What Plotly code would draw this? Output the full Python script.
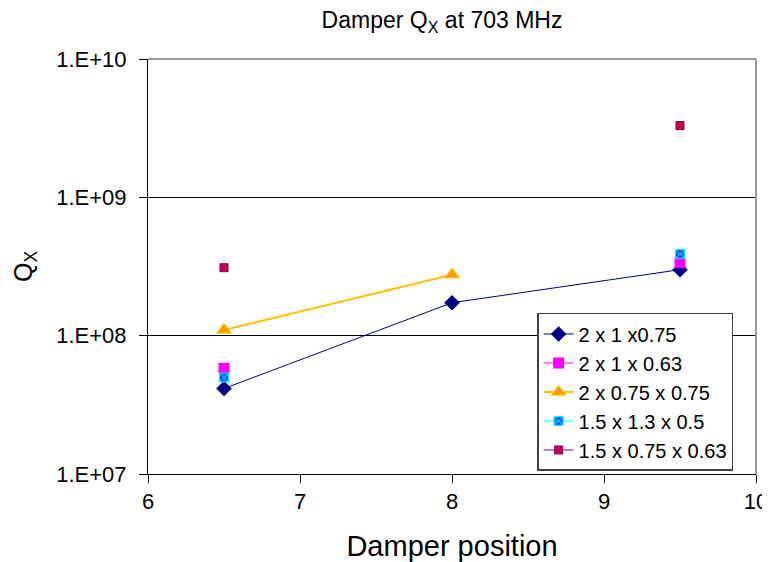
import plotly.graph_objects as go

positions = [6.5, 8, 9.5]
names = ["2 x 1 x0.75", "2 x 1 x 0.63", "2 x 0.75 x 0.75", "1.5 x 1.3 x 0.5", "1.5 x 0.75 x 0.63"]
q_2x1x075 = [4.15e7, 1.73e8, 3.0e8]
q_2x1x063 = [5.8e7, None, 3.37e8]
q_2x075x075 = [1.1e8, 2.76e8, None]
q_15x13x05 = [4.98e7, None, 3.9e8]
q_15x075x063 = [3.1e8, None, 3.3e9]

ytickvals = [1e7, 1e8, 1e9, 1e10]
yticktext = ["1.E+07", "1.E+08", "1.E+09", "1.E+10"]

fig = go.Figure()
fig.add_trace(go.Scatter(x=positions, y=q_2x1x075, name=names[0], mode="lines+markers",
                         line=dict(color="#000080", width=1),
                         marker=dict(symbol="diamond", size=12, color="#000080")))
fig.add_trace(go.Scatter(x=positions, y=q_2x1x063, name=names[1], mode="lines+markers",
                         connectgaps=False,
                         line=dict(color="#FF00FF", width=1),
                         marker=dict(symbol="square", size=11, color="#FF00FF")))
fig.add_trace(go.Scatter(x=positions, y=q_2x075x075, name=names[2], mode="lines+markers",
                         line=dict(color="#FFC000", width=2),
                         marker=dict(symbol="triangle-up", size=13, color="#FF9900",
                                     line=dict(color="#FFD000", width=1))))
fig.add_trace(go.Scatter(x=positions, y=q_15x13x05, name=names[3], mode="lines+markers",
                         connectgaps=False,
                         line=dict(color="#00FFFF", width=1),
                         marker=dict(symbol="square-x", size=9, color="#0050FF",
                                     line=dict(color="#00FFFF", width=1))))
fig.add_trace(go.Scatter(x=positions, y=q_15x075x063, name=names[4], mode="lines+markers",
                         connectgaps=False,
                         line=dict(color="#800080", width=1),
                         marker=dict(symbol="square-x", size=8, color="#E0004A",
                                     line=dict(color="#800060", width=1))))

fig.update_layout(
    width=762, height=554,
    margin=dict(l=140, r=14, t=51, b=88, autoexpand=False),
    paper_bgcolor="white", plot_bgcolor="white",
    font=dict(family="Liberation Sans, Arial, sans-serif", color="black"),
    title=dict(text="Damper Q<sub>X</sub> at 703 MHz", xref="container", x=0.5696, xanchor="center",
               yref="container", y=0.978, yanchor="middle", font=dict(size=23, color="black")),
    xaxis=dict(range=[6, 10], dtick=1, tick0=6, showgrid=False, zeroline=False,
               showline=True, linecolor="black", linewidth=1, mirror=False, automargin=False,
               ticks="outside", ticklen=8, tickcolor="black",
               tickfont=dict(size=22), title=dict(text="Damper position", font=dict(size=29), standoff=24)),
    yaxis=dict(type="log", range=[7, 10], tickvals=ytickvals, ticktext=yticktext,
               showgrid=True, gridcolor="black", gridwidth=1, zeroline=False, automargin=False,
               showline=True, linecolor="black", linewidth=1,
               ticks="outside", ticklen=8, tickcolor="black", ticklabelstandoff=8,
               tickfont=dict(size=22)),
    legend=dict(x=0.64, y=0.388, xanchor="left", yanchor="top",
                bgcolor="white", bordercolor="#404040", borderwidth=1.5,
                font=dict(size=20), tracegroupgap=0, itemwidth=30),
    showlegend=True,
)
# y-axis title as annotation (placed further left than standoff allows)
fig.add_annotation(text="Q<sub>X</sub>", xref="paper", yref="paper", x=-0.2023, y=0.499,
                   xanchor="center", yanchor="middle", textangle=-90, showarrow=False,
                   font=dict(size=25, color="black"))
# top and right plot border (gray)
fig.add_shape(type="line", xref="paper", yref="paper", x0=0, x1=1, y0=1, y1=1,
              line=dict(color="#999999", width=2))
fig.add_shape(type="line", xref="paper", yref="paper", x0=1, x1=1, y0=0, y1=1,
              line=dict(color="#999999", width=2))

fig.write_html("out.html")
